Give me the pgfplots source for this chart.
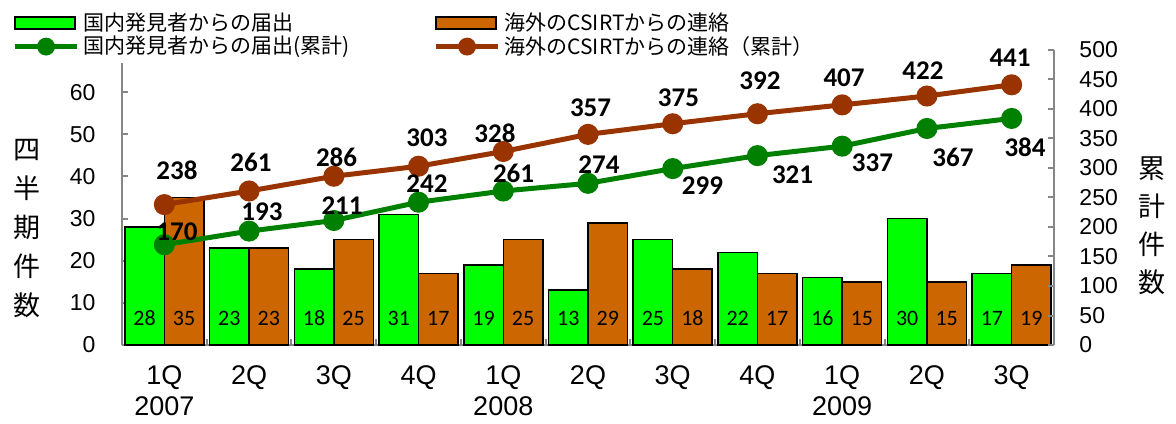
\documentclass[border=0pt]{standalone}
\usepackage{fontspec}
\setmainfont{Liberation Sans}
\newfontfamily\jp{Noto Sans CJK JP}
\newfontfamily\calib{Carlito}
\usepackage{pgfplots}
\pgfplotsset{compat=1.18}
\definecolor{barG}{RGB}{0,255,0}
\definecolor{barO}{RGB}{204,102,0}
\definecolor{lineG}{RGB}{0,128,0}
\definecolor{lineO}{RGB}{153,51,0}
\definecolor{axgray}{RGB}{134,134,134}
\pgfplotsset{
  base/.style={
    scale only axis, width=466pt, height=147.5pt,
    xmin=-0.5, xmax=10.5,
    axis line style={axgray, line width=1pt},
    every tick/.style={axgray, line width=1pt},
    tick align=inside,
    major tick length=3pt, minor tick length=3pt,
    /pgf/number format/assume math mode=true,
    clip=false,
  },
  lbl/.style={only marks, mark=*, mark size=0pt, mark options={draw=none,fill=none},
    point meta=explicit symbolic, nodes near coords, forget plot,
    every node near coord/.append style={inner sep=0pt, black, font=\calib\bfseries\fontsize{13.5}{15}\selectfont}},
  linekey/.style={legend image code/.code={
      \draw[##1, mark=none] (0pt,0pt) -- (31pt,0pt);
      \draw[##1, mark size=3.2pt] plot coordinates {(15.5pt,0pt)};}},
}
\begin{document}
\begin{tikzpicture}
\useasboundingbox (-61pt,-39pt) rectangle (527pt,172.5pt);
\begin{axis}[base,
  ymin=0, ymax=70, ytick={0,10,...,60},
  axis y line*=left, axis x line*=bottom,
  xtick={0,...,10},
  xticklabels={{1Q\\2007},2Q,3Q,4Q,{1Q\\2008},2Q,3Q,4Q,{1Q\\2009},2Q,3Q},
  major x tick style={draw=none},
  minor xtick={0.5,1.5,...,9.5},
  xticklabel style={font=\fontsize{13.5}{15.5}\selectfont, align=center, yshift=-7pt},
  yticklabel style={font=\fontsize{11.5}{13}\selectfont, xshift=-9.7pt},
]
\addplot[ybar, bar width=19.75pt, bar shift=-9.875pt, fill=barG, draw=black, line width=0.75pt]
  coordinates {(0,28)(1,23)(2,18)(3,31)(4,19)(5,13)(6,25)(7,22)(8,16)(9,30)(10,17)};
\addplot[ybar, bar width=19.75pt, bar shift=9.875pt, fill=barO, draw=black, line width=0.75pt]
  coordinates {(0,35)(1,23)(2,25)(3,17)(4,25)(5,29)(6,18)(7,17)(8,15)(9,15)(10,19)};
\addplot[lbl, every node near coord/.append style={font=\calib\fontsize{11}{13}\selectfont}]
  coordinates {(-0.233,4.5)[28](0.767,4.5)[23](1.767,4.5)[18](2.767,4.5)[31](3.767,4.5)[19](4.767,4.5)[13](5.767,4.5)[25](6.767,4.5)[22](7.767,4.5)[16](8.767,4.5)[30](9.767,4.5)[17]};
\addplot[lbl, every node near coord/.append style={font=\calib\fontsize{11}{13}\selectfont}]
  coordinates {(0.233,4.5)[35](1.233,4.5)[23](2.233,4.5)[25](3.233,4.5)[17](4.233,4.5)[25](5.233,4.5)[29](6.233,4.5)[18](7.233,4.5)[17](8.233,4.5)[15](9.233,4.5)[15](10.233,4.5)[19]};
\end{axis}
\begin{axis}[base,
  ymin=0, ymax=500, ytick={0,50,...,500},
  axis y line*=right, axis x line=none,
  yticklabel style={font=\fontsize{11.5}{13}\selectfont, xshift=9.2pt},
  legend columns=2,
  legend cell align=left,
  legend style={at={(-0.120,1.149)}, anchor=north west, draw=none, fill=white,
    font=\jp\fontsize{10.5}{12.5}\selectfont, row sep=-2.5pt, inner sep=1pt},
]
\addlegendimage{legend image code/.code={\draw[fill=barG,draw=black,line width=0.75pt] (0pt,-3pt) rectangle (30pt,3pt);}}
\addlegendentry{\makebox[173pt][l]{国内発見者からの届出}}
\addlegendimage{legend image code/.code={\draw[fill=barO,draw=black,line width=0.75pt] (0pt,-3pt) rectangle (30pt,3pt);}}
\addlegendentry{海外のCSIRTからの連絡}
\addplot[lineG, line width=2.5pt, mark=*, mark size=4pt, linekey]
  coordinates {(0,170)(1,193)(2,211)(3,242)(4,261)(5,274)(6,299)(7,321)(8,337)(9,367)(10,384)};
\addlegendentry{\makebox[173pt][l]{国内発見者からの届出(累計)}}
\addplot[lineO, line width=2.5pt, mark=*, mark size=4pt, linekey]
  coordinates {(0,238)(1,261)(2,286)(3,303)(4,328)(5,357)(6,375)(7,392)(8,407)(9,422)(10,441)};
\addlegendentry{海外のCSIRTからの連絡（累計）}
\addplot[lbl] coordinates {(0.149,279.7)[238](1.0225,293.2)[261](2.032,301.7)[286](3.100,335.6)[303](3.902,342.4)[328](5.030,386.4)[357](6.068,403.4)[375](7.030,432.2)[392](8.022,437.3)[407](8.954,449.2)[422](9.981,471.2)[441]};
\addplot[lbl] coordinates {(0.149,176.3)[170](1.152,210.2)[193](2.097,220.3)[211](3.100,257.6)[242](4.121,274.6)[261](5.130,289.8)[274](6.351,254.2)[299](7.414,272.9)[321](8.358,293.2)[337](9.308,301.7)[367](10.158,318.6)[384]};
\end{axis}
\node[align=center, font=\jp\fontsize{13.5}{19.5}\selectfont] at (-47.5pt,58pt) {四\\半\\期\\件\\数};
\node[align=center, font=\jp\fontsize{13.5}{19}\selectfont] at (515pt,59.5pt) {累\\計\\件\\数};
\end{tikzpicture}
\end{document}
